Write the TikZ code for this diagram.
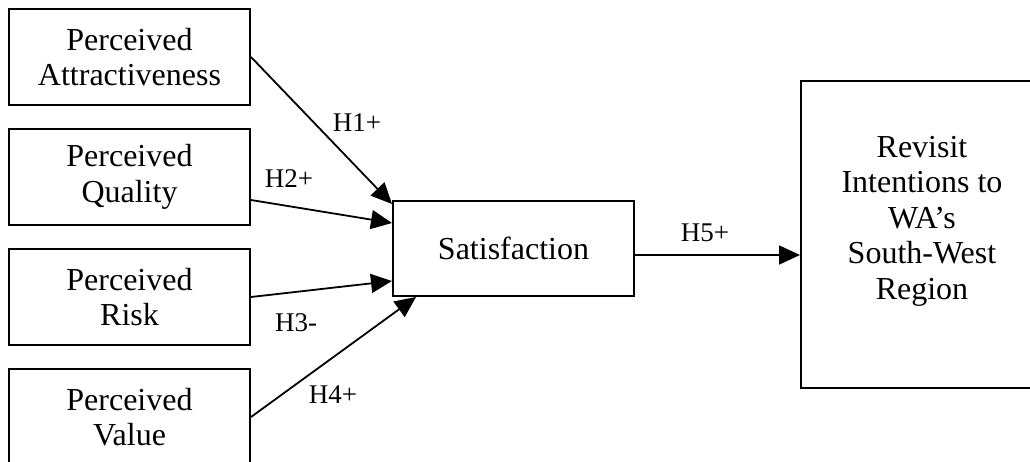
\documentclass[tikz,border=0pt]{standalone}
\usepackage{fontspec}
\setmainfont{Liberation Serif}
\usetikzlibrary{arrows.meta}
\begin{document}
\begin{tikzpicture}[x=1pt,y=-1pt,
  box/.style={draw, line width=2pt, minimum width=241pt, minimum height=96pt, align=center, inner sep=0pt,
    font=\fontsize{32}{35.5}\selectfont},
  lbl/.style={font=\fontsize{27}{30}\selectfont, inner sep=0pt},
  arr/.style={line width=1.8pt, -{Triangle[length=21pt,width=19pt]}}]
\useasboundingbox (0,0) rectangle (1030,461);
\begin{scope}
\clip (0,0) rectangle (1030,461);
\node[box] (b1) at (129.5,57) {Perceived\\Attractiveness};
\node[box] (b2) at (129.5,177) {Perceived\\Quality};
\node[box] (b3) at (129.5,297) {Perceived\\Risk};
\node[box] (b4) at (129.5,417) {Perceived\\Value};
\node[box, minimum width=241pt, minimum height=95pt] (s) at (513.5,248.5) {Satisfaction};
\node[box, minimum width=242pt, minimum height=307pt] (r) at (922,234.5) {};
\node[align=center, font=\fontsize{32}{35.5}\selectfont, inner sep=0pt] (rt) at (922,221) {Revisit\\Intentions to\\WA’s\\South-West\\Region};
\end{scope}
\draw[arr] (b1.east) -- ([yshift=-4pt]s.north west);
\draw[arr] ([yshift=-23pt]b2.east) -- ([yshift=-23pt]s.north west);
\draw[arr] (b3.east) -- ([yshift=16pt]s.south west);
\draw[arr] (b4.east) -- ([xshift=24pt]s.south west);
\draw[arr] ([yshift=-6.5pt]s.east) -- ([yshift=-6.5pt]s.east -| r.west);
\node[lbl] (l1) at (357,123) {H1+};
\node[lbl] (l2) at (289,179) {H2+};
\node[lbl] (l3) at (296,323) {H3-};
\node[lbl] (l4) at (333,395) {H4+};
\node[lbl] (l5) at (705,233) {H5+};
\end{tikzpicture}
\end{document}
